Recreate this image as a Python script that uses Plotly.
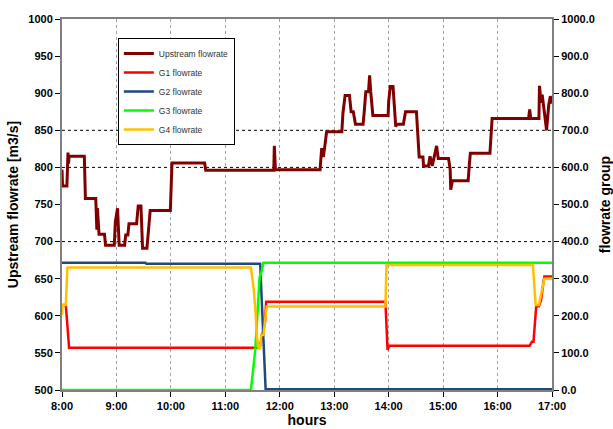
import plotly.graph_objects as go

# ---------------- data (hours as decimal, values) ----------------
tick_hours = [8, 9, 10, 11, 12, 13, 14, 15, 16, 17]
tick_labels = ["8:00", "9:00", "10:00", "11:00", "12:00", "13:00", "14:00", "15:00", "16:00", "17:00"]

up_t = [8.00, 8.01, 8.09, 8.10, 8.11, 8.12, 8.13, 8.41, 8.43, 8.62, 8.64, 8.65, 8.67, 8.68, 8.78, 8.80,
        8.96, 8.98, 9.02, 9.05, 9.15, 9.17, 9.21, 9.23, 9.37, 9.40, 9.45, 9.48, 9.56, 9.62, 9.99, 10.02,
        10.62, 10.64, 11.89, 11.90, 11.92, 12.74, 12.77, 12.80, 12.83, 12.86, 13.14, 13.16, 13.20, 13.28,
        13.31, 13.35, 13.39, 13.53, 13.55, 13.58, 13.63, 13.65, 13.67, 13.71, 13.99, 14.00, 14.03, 14.08,
        14.13, 14.15, 14.27, 14.31, 14.51, 14.56, 14.63, 14.64, 14.73, 14.76, 14.80, 14.83, 14.88, 14.91,
        15.10, 15.13, 15.14, 15.17, 15.46, 15.48, 15.50, 15.86, 15.88, 15.90, 16.57, 16.59, 16.61, 16.76,
        16.77, 16.80, 16.82, 16.84, 16.87, 16.90, 16.94, 16.97, 17.00]
upstream = [797, 775, 775, 800, 820, 805, 815, 815, 758, 758, 716, 745, 712, 710, 710, 695,
            695, 727, 745, 695, 695, 709, 709, 724, 724, 748, 748, 691, 691, 742, 742, 806,
            806, 796, 796, 829, 797, 797, 826, 814, 830, 848, 848, 873, 897, 897,
            875, 875, 858, 858, 874, 902, 902, 924, 902, 870, 870, 889, 909, 909,
            855, 858, 858, 875, 875, 814, 814, 802, 802, 815, 802, 814, 829, 812,
            812, 797, 770, 782, 782, 802, 819, 819, 837, 866, 866, 878, 866, 866,
            910, 887, 898, 885, 862, 850, 884, 896, 886]

g1_t = [8.00, 8.07, 8.13, 11.63, 11.66, 11.73, 11.75, 13.94, 13.98, 14.01, 16.59, 16.63, 16.66,
        16.71, 16.76, 16.80, 16.84, 16.86, 17.00]
g1 = [229, 229, 114, 114, 135, 184, 238, 238, 108, 119, 119, 130, 130,
      226, 226, 243, 288, 306, 306]

g2_t = [8.00, 9.53, 9.55, 11.64, 11.74, 17.00]
g2 = [343, 343, 340, 340, 2, 2]

g3_t = [8.00, 11.47, 11.55, 11.63, 11.65, 11.70, 17.00]
g3 = [0, 0, 108, 305, 310, 343, 343]

g4_t = [8.00, 8.01, 8.07, 8.10, 11.47, 11.50, 11.52, 11.55, 11.58, 11.61, 11.64, 11.66, 11.70,
        11.73, 11.76, 13.94, 13.96, 16.65, 16.70, 16.76, 16.80, 16.84, 16.86, 17.00]
g4 = [202, 229, 229, 330, 330, 296, 274, 220, 144, 112, 112, 148, 148,
      189, 225, 225, 337, 337, 229, 229, 261, 292, 300, 300]

ref_levels = [700, 800, 850]

# ---------------- figure ----------------
FONT = "Liberation Sans, Arial, sans-serif"
fig = go.Figure()

fig.add_trace(go.Scatter(x=up_t, y=upstream, mode="lines", name="Upstream flowrate",
                         line=dict(color="#800000", width=3), yaxis="y"))
fig.add_trace(go.Scatter(x=g1_t, y=g1, mode="lines", name="G1 flowrate",
                         line=dict(color="#FF0000", width=2.5), yaxis="y2"))
fig.add_trace(go.Scatter(x=g2_t, y=g2, mode="lines", name="G2 flowrate",
                         line=dict(color="#1F497D", width=2.5), yaxis="y2"))
fig.add_trace(go.Scatter(x=g3_t, y=g3, mode="lines", name="G3 flowrate",
                         line=dict(color="#00FF00", width=2.5), yaxis="y2"))
fig.add_trace(go.Scatter(x=g4_t, y=g4, mode="lines", name="G4 flowrate",
                         line=dict(color="#FFC000", width=2.5), yaxis="y2"))

shapes = [dict(type="line", xref="paper", x0=0, x1=1, yref="y", y0=v, y1=v,
               line=dict(color="black", width=1, dash="dot"), layer="below") for v in ref_levels]

tickfont = dict(family=FONT, size=11, color="black", weight="bold")
titlefont = dict(family=FONT, size=14, color="black", weight="bold")

fig.update_layout(
    width=613, height=429,
    margin=dict(l=62, r=61, t=19, b=39, autoexpand=False),
    paper_bgcolor="white", plot_bgcolor="white",
    showlegend=True,
    shapes=shapes,
    legend=dict(x=0.114, y=0.949, xanchor="left", yanchor="top",
                bgcolor="white", bordercolor="black", borderwidth=1,
                font=dict(family=FONT, size=8.5, color="#333333"),
                tracegroupgap=0, itemwidth=30),
    xaxis=dict(range=[8, 17], tickmode="array", tickvals=tick_hours, ticktext=tick_labels,
               showgrid=True, gridcolor="#a0a0a0", griddash="dot", gridwidth=1,
               showline=True, linecolor="#808080", linewidth=2, mirror=True,
               ticks="outside", ticklen=5, tickcolor="black", zeroline=False,
               tickfont=tickfont, automargin=False,
               title=dict(text="hours", font=titlefont, standoff=2)),
    yaxis=dict(range=[500, 1000], dtick=50, tick0=500, showgrid=False, zeroline=False,
               showline=True, linecolor="#808080", linewidth=2, automargin=False,
               ticks="outside", ticklen=5, tickcolor="black", tickfont=tickfont,
               title=dict(text="Upstream flowrate [m3/s]", font=titlefont, standoff=6)),
    yaxis2=dict(range=[0, 1000], dtick=100, tick0=0, tickformat=".1f", overlaying="y", side="right",
                showgrid=False, zeroline=False, automargin=False,
                showline=True, linecolor="#808080", linewidth=2,
                ticks="outside", ticklen=5, tickcolor="black", tickfont=tickfont,
                title=dict(text="flowrate group", font=titlefont, standoff=6)),
)

fig.write_html("out.html")
